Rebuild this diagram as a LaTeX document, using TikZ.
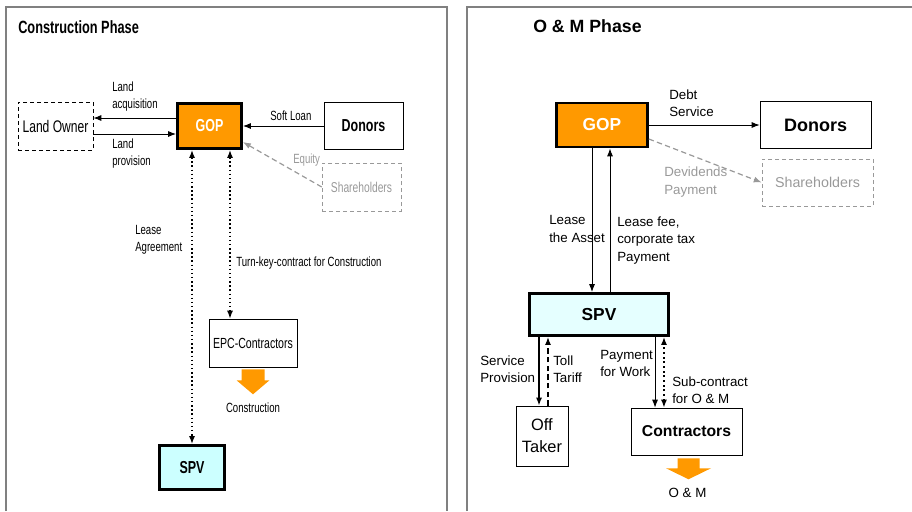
\documentclass[tikz,border=0pt]{standalone}
\usepackage{fontspec}
\setmainfont{Liberation Sans}
\newfontfamily\narrowsf[FakeStretch=0.72]{Liberation Sans}
\usetikzlibrary{arrows.meta}

\definecolor{gopfill}{HTML}{FF9900}
\definecolor{spvfill}{HTML}{CCFFFF}
\definecolor{spvpale}{HTML}{E5FFFF}
\definecolor{paleline}{HTML}{999999}
\definecolor{framegray}{HTML}{808080}

\tikzset{
  >={Latex[length=6pt,width=4.5pt]},
  box/.style={draw,inner sep=0pt,align=center},
  dashbox/.style={box,dash pattern=on 3pt off 2.25pt},
  gopbox/.style={box,fill=gopfill,line width=2pt,text=white},
  spvbox/.style={box,line width=2pt},
  lbl/.style={inner sep=0pt,align=left,anchor=west},
  narrowlbl/.style={lbl,font=\narrowsf\fontsize{10}{12.75}\selectfont},
  widelbl/.style={lbl,font=\fontsize{10}{13}\selectfont},
  arr/.style={->,line width=0.75pt},
  dotboth/.style={<->,dotted,line width=1.1pt},
  graydash/.style={->,paleline,dash pattern=on 4pt off 2.5pt,line width=0.9pt}
}

\begin{document}
\begin{tikzpicture}[x=0.75pt,y=-0.75pt]
\useasboundingbox (0,0) rectangle (912,511);
% panel frames
\draw[framegray,line width=0.8pt] (6,511) -- (6,7) -- (447,7) -- (447,511);
\draw[framegray,line width=0.8pt] (467,511) -- (467,7) -- (912,7);

% ---- construction phase
\node[lbl,font=\narrowsf\fontsize{13.3}{16}\selectfont\bfseries] (titleL) at (18,27) {Construction Phase};

\node[dashbox,minimum width=56.25pt,minimum height=36pt,font=\narrowsf\fontsize{12.6}{15}\selectfont] (ownerL) at (55.5,126) {Land Owner};
\node[gopbox,minimum width=48pt,minimum height=33.75pt,font=\narrowsf\fontsize{13}{15}\selectfont\bfseries] (gopL) at (209.5,126) {GOP};
\node[box,minimum width=59.25pt,minimum height=35.25pt,font=\narrowsf\fontsize{13}{15}\selectfont\bfseries] (donorsL) at (363.5,126) {Donors};
\node[dashbox,draw=paleline,text=paleline,minimum width=59.25pt,minimum height=36pt,font=\narrowsf\fontsize{10.7}{13}\selectfont] (shareL) at (361.5,187) {Shareholders};
\node[box,minimum width=66pt,minimum height=36pt,font=\narrowsf\fontsize{11}{13}\selectfont] (epc) at (253,343) {EPC-Contractors};
\node[spvbox,fill=spvfill,minimum width=48.75pt,minimum height=33pt,font=\narrowsf\fontsize{13}{15}\selectfont\bfseries] (spvL) at (192,467.5) {SPV};

\node[narrowlbl] (landAcq) at (112,96.5) {Land\\acquisition};
\node[narrowlbl] (landProv) at (112,154) {Land\\provision};
\node[narrowlbl] (softLoan) at (270,116) {Soft Loan};
\node[narrowlbl,text=paleline] (equity) at (293,160) {Equity};
\node[narrowlbl] (leaseAgr) at (135,240) {Lease\\Agreement};
\node[narrowlbl] (turnKey) at (236,263) {Turn-key-contract for Construction};
\node[narrowlbl,anchor=center] (constrTxt) at (253,408) {Construction};

\draw[arr] ([yshift=6pt]gopL.west) -- ([yshift=6pt]ownerL.east);
\draw[arr] ([yshift=-6pt]ownerL.east) -- ([yshift=-6pt]gopL.west);
\draw[arr] (donorsL.west) -- (gopL.east);
\draw[graydash] (shareL.west) -- ([yshift=-12pt]gopL.east);
\draw[dotboth] (gopL.south -| spvL.north) -- (spvL.north);
\coordinate (tkL) at ([xshift=-17.25pt]epc.north);
\draw[dotboth] (gopL.south -| tkL) -- (tkL);
\fill[gopfill,shift={(epc.south)}] (-11.5,2) -- (11.5,2) -- (11.5,13) -- (16.5,13) -- (0,27) -- (-16.5,13) -- (-11.5,13) -- cycle;

% ---- O & M phase
\node[lbl,font=\fontsize{13.3}{16}\selectfont\bfseries] (titleR) at (533,26) {O \& M Phase};

\node[gopbox,minimum width=68.25pt,minimum height=33pt,font=\fontsize{13}{15}\selectfont\bfseries] (gopR) at (602,125) {GOP};
\node[box,minimum width=83.25pt,minimum height=35.25pt,font=\fontsize{13.5}{15}\selectfont\bfseries] (donorsR) at (815.5,125) {Donors};
\node[dashbox,draw=paleline,text=paleline,minimum width=83.25pt,minimum height=35.25pt,font=\fontsize{10.7}{13}\selectfont] (shareR) at (817.5,182.5) {Shareholders};
\node[spvbox,fill=spvpale,minimum width=104.25pt,minimum height=31.5pt,font=\fontsize{13}{15}\selectfont\bfseries] (spvR) at (599,314.5) {SPV};
\node[box,minimum width=39pt,minimum height=45pt,font=\fontsize{12.3}{16.5}\selectfont] (offT) at (542,436) {Off\\Taker};
\node[box,minimum width=83.25pt,minimum height=35.25pt,font=\fontsize{11.8}{14}\selectfont\bfseries] (contr) at (686.5,431.5) {Contractors};

\node[widelbl] (debtSrv) at (669,103.5) {Debt\\Service};
\node[widelbl,text=paleline] (divPay) at (664,182) {Devidends\\Payment};
\node[widelbl] (leaseAsset) at (549,229) {Lease\\the Asset};
\node[widelbl] (leaseFee) at (617,240.5) {Lease fee,\\corporate tax\\Payment};
\node[widelbl] (servProv) at (480,369) {Service\\Provision};
\node[widelbl] (tollTar) at (553,369.5) {Toll\\Tariff};
\node[widelbl] (payWork) at (600,363.5) {Payment\\for Work};
\node[widelbl] (subCon) at (672,390.5) {Sub-contract\\for O \& M};
\node[widelbl,anchor=center] (omTxt) at (687.5,493) {O \& M};

\draw[arr] (gopR.east) -- (donorsR.west);
\draw[graydash] ([yshift=-10.5pt]gopR.east) -- (shareR.west);
\coordinate (laTop) at ([xshift=-7.5pt]gopR.south);
\draw[arr] (laTop) -- (laTop |- spvR.north);
\coordinate (lfTop) at ([xshift=6pt]gopR.south);
\draw[arr] (lfTop |- spvR.north) -- (lfTop);
\coordinate (svBot) at ([xshift=-2.25pt]offT.north);
\draw[->,line width=1.5pt] (svBot |- spvR.south) -- (svBot);
\coordinate (tlBot) at ([xshift=4.5pt]offT.north);
\draw[->,line width=1.5pt,dash pattern=on 4pt off 2.5pt] (tlBot) -- (tlBot |- spvR.south);
\coordinate (pwBot) at ([xshift=-23.6pt]contr.north);
\draw[arr] (pwBot |- spvR.south) -- (pwBot);
\coordinate (scBot) at ([xshift=-16.9pt]contr.north);
\draw[dotboth,line width=1.5pt] (scBot) -- (scBot |- spvR.south);
\fill[gopfill,shift={([xshift=1.5pt]contr.south)}] (-11,3) -- (11,3) -- (11,13) -- (22.5,13) -- (0,24) -- (-22.5,13) -- (-11,13) -- cycle;
\end{tikzpicture}
\end{document}
